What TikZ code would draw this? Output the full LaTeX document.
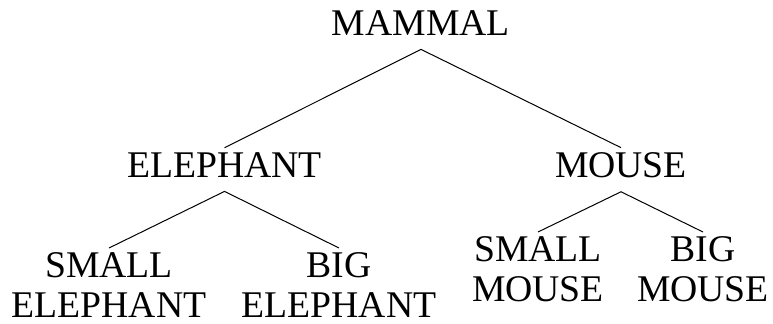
\documentclass[tikz,border=0pt]{standalone}
\usepackage{fontspec}
\setmainfont{Liberation Serif}
\usetikzlibrary{calc}
\tikzset{
  concept/.style={inner sep=2pt,align=center,font=\fontsize{18.85}{20.2}\selectfont},
  branch/.style={line width=0.5pt}
}

\begin{document}
\begin{tikzpicture}[x=0.5pt,y=0.5pt]
  \useasboundingbox (0,0) rectangle (773,323);
  % root and first level
  \node[concept,anchor=base] (mammal) at (421,288) {MAMMAL};
  \node[concept,anchor=base] (elephant) at (224.5,146) {ELEPHANT};
  \node[concept,anchor=base] (mouse) at (621,146) {MOUSE};
  % leaves
  \node[concept,anchor=north] (smallel) at (109,75) {SMALL\\ELEPHANT};
  \node[concept,anchor=north] (bigel) at (339,75) {BIG\\ELEPHANT};
  \node[concept,anchor=north] (smallmo) at (538,91) {SMALL\\MOUSE};
  \node[concept,anchor=north] (bigmo) at (703,91) {BIG\\MOUSE};
  % forks under each parent
  \coordinate (mammal-fork) at ([yshift=-5pt]mammal.south);
  \coordinate (elephant-fork) at ([yshift=-5pt]elephant.south);
  \coordinate (mouse-fork) at ([yshift=-5pt]mouse.south);
  \draw[branch] (elephant.north) -- (mammal-fork) -- (mouse.north);
  \draw[branch] (smallel.north) -- (elephant-fork) -- (bigel.north);
  \draw[branch] (smallmo.north) -- (mouse-fork) -- (bigmo.north);
\end{tikzpicture}
\end{document}
